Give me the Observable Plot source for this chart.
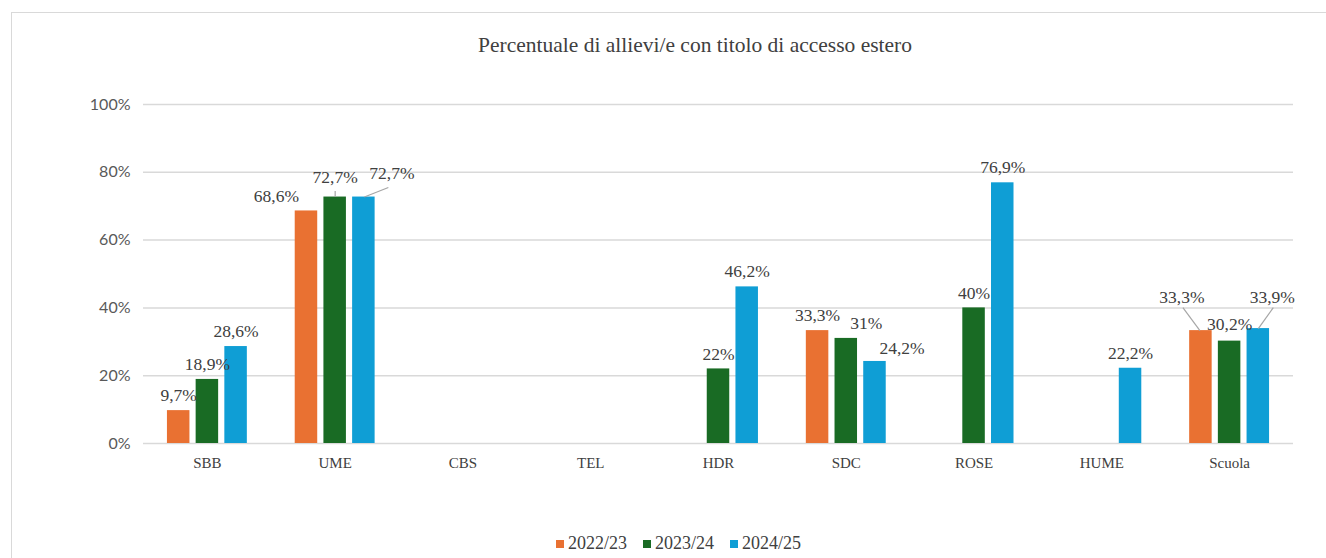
<!DOCTYPE html>
<html><head><meta charset="utf-8">
<script src="https://cdn.jsdelivr.net/npm/d3@7"></script>
<script src="https://cdn.jsdelivr.net/npm/@observablehq/plot@0.6"></script>
<style>
body{margin:0;background:#fff;width:1326px;height:558px;overflow:hidden;position:relative;}
#chart{position:absolute;left:0;top:0;}
#frame{position:absolute;left:11px;top:12px;width:1400px;height:600px;border-left:1.5px solid #d9d9d9;border-top:1.5px solid #d9d9d9;pointer-events:none;}
#title{position:absolute;left:0;width:1390px;top:33px;text-align:center;font-family:"Liberation Serif",serif;font-size:21.5px;color:#404040;}
#legend{position:absolute;left:556px;top:533px;display:flex;align-items:center;font-family:"Liberation Serif",serif;font-size:18px;color:#404040;}
#legend .item{display:flex;align-items:center;margin-right:16px;}
#legend .sw{width:8px;height:8px;margin-right:4px;}
</style>
</head><body>
<div id="chart"></div>
<div id="frame"></div>
<div id="title">Percentuale di allievi/e con titolo di accesso estero</div>
<div id="legend"></div>
<script>
const categories = ["SBB","UME","CBS","TEL","HDR","SDC","ROSE","HUME","Scuola"];
const series = ["2022/23","2023/24","2024/25"];
const values2022 = [9.7, 68.6, null, null, null, 33.3, null, null, 33.3];
const values2023 = [18.9, 72.7, null, null, 22, 31, 40, null, 30.2];
const values2024 = [28.6, 72.7, null, null, 46.2, 24.2, 76.9, 22.2, 33.9];
const colors = ["#E97132","#196B24","#0F9ED5"];
const yTicks = [0, 20, 40, 60, 80, 100];

// layout (pixels)
const W = 1326, H = 558, mT = 104, mB = 115, mL = 143, mR = 33;
const pxX = (W - mL - mR) / categories.length;
const pxY = (H - mT - mB) / 100;
const barStep = 28.7, barHalf = 11.25, labelGap = 15;
// manual label nudges [dx, dy] in pixels and leader lines
const labelNudge = {
  "UME|2022/23": [-30, 0],
  "UME|2023/24": [0, -4.5],
  "UME|2024/25": [28, -8.5],
  "SDC|2023/24": [20, 0],
  "SDC|2024/25": [27, 2],
  "Scuola|2022/23": [-19, -18],
  "Scuola|2023/24": [0, -2],
  "Scuola|2024/25": [14, -16]
};
const leaderLines = {
  "UME|2023/24": [[0, 0], [0, -6]],
  "UME|2024/25": [[0.5, 0], [24.5, -9.5]],
  "Scuola|2022/23": [[-1, 0], [-18, -23]],
  "Scuola|2024/25": [[0, 0], [15, -21]]
};

const allValues = [values2022, values2023, values2024];
const rows = [];
categories.forEach((c, ci) => {
  series.forEach((s, si) => {
    const v = allValues[si][ci];
    if (v != null) rows.push({cat: c, ci, series: s, si, value: v, key: c + "|" + s});
  });
});
const bx = d => d.ci + (d.si - 1) * barStep / pxX;
const fmt = v => String(v).replace(".", ",") + "%";
const nud = d => labelNudge[d.key] || [0, 0];
const leaders = rows.filter(d => leaderLines[d.key]);

const plot = Plot.plot({
  width: W, height: H,
  marginTop: mT, marginBottom: mB, marginLeft: mL, marginRight: mR,
  x: {domain: [-0.5, categories.length - 0.5], axis: null},
  y: {domain: [0, 100], axis: null},
  color: {domain: series, range: colors},
  style: {background: "transparent"},
  marks: [
    Plot.gridY(yTicks, {stroke: "#d9d9d9", strokeOpacity: 1, strokeWidth: 1.5}),
    Plot.axisY(yTicks, {tickFormat: d => d + "%", tickSize: 0, tickPadding: 13, fontSize: 16, fontFamily: "Lato", fill: "#595959", label: null}),
    Plot.axisX(d3.range(categories.length), {tickFormat: i => categories[i], tickSize: 0, tickPadding: 14, fontSize: 15, fontFamily: "Liberation Serif", fill: "#404040", label: null}),
    Plot.rectY(rows, {
      x1: d => bx(d) - barHalf / pxX,
      x2: d => bx(d) + barHalf / pxX,
      y1: 0, y2: "value", fill: "series"
    }),
    Plot.link(leaders, {
      x1: d => bx(d) + leaderLines[d.key][0][0] / pxX,
      y1: d => d.value - leaderLines[d.key][0][1] / pxY,
      x2: d => bx(d) + leaderLines[d.key][1][0] / pxX,
      y2: d => d.value - leaderLines[d.key][1][1] / pxY,
      stroke: "#a6a6a6", strokeWidth: 1.2
    }),
    Plot.text(rows, {
      x: d => bx(d) + nud(d)[0] / pxX,
      y: d => d.value + (labelGap - nud(d)[1]) / pxY,
      text: d => fmt(d.value),
      textAnchor: "middle", lineAnchor: "middle",
      fontSize: 17.5, fontFamily: "Liberation Serif", fill: "#404040"
    })
  ]
});
document.getElementById("chart").appendChild(plot);

const legend = document.getElementById("legend");
series.forEach((s, i) => {
  const item = document.createElement("div");
  item.className = "item";
  const sw = document.createElement("div");
  sw.className = "sw";
  sw.style.background = colors[i];
  const t = document.createElement("span");
  t.textContent = s;
  item.appendChild(sw); item.appendChild(t);
  legend.appendChild(item);
});
</script>
</body></html>
